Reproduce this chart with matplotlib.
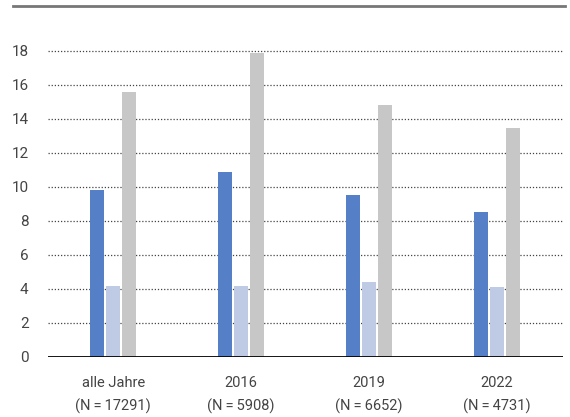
import matplotlib.pyplot as plt
import numpy as np

categories = ['alle Jahre\n(N\u2009=\u200917291)', '2016\n(N\u2009=\u20095908)',
              '2019\n(N\u2009=\u20096652)', '2022\n(N\u2009=\u20094731)']
series_a = [9.8, 10.9, 9.5, 8.5]
series_b = [4.2, 4.2, 4.4, 4.1]
series_c = [15.6, 17.9, 14.8, 13.45]
colors = ['#557fc6', '#bfcae4', '#c6c7c6']

plt.rcParams['font.family'] = ['Roboto', 'DejaVu Sans']

fig = plt.figure(figsize=(5.7, 4.17), dpi=100)
ax = fig.add_axes([48 / 570, 1 - 357 / 417, 515 / 570, 330 / 417])

x = np.arange(len(categories))
w = 14 / 128
step = 16 / 128
for i, (vals, c) in enumerate(zip([series_a, series_b, series_c], colors)):
    ax.bar(x + (i - 1) * step, vals, width=w, color=c, zorder=3)

ax.set_ylim(0, 19.4)
ax.set_xlim(-0.51, 3.52)
ax.set_yticks(range(0, 19, 2))
ax.yaxis.grid(True, linestyle=(0, (1, 1.5)), color='#444444', linewidth=0.9, zorder=0)
ax.axhline(0, color='black', linewidth=2, zorder=4)
for s in ax.spines.values():
    s.set_visible(False)
ax.tick_params(axis='y', length=0, pad=14, labelsize=11, labelcolor='#444444')
ax.tick_params(axis='x', length=0, pad=14, labelsize=10.5, labelcolor='#444444')
ax.set_xticks(x)
ax.set_xticklabels(categories, linespacing=1.65)

# top rule
fig.add_artist(plt.Line2D([13 / 570, 565 / 570], [1 - 6 / 417] * 2,
                          color='#777777', linewidth=2))

fig.savefig('out.png', dpi=100)
